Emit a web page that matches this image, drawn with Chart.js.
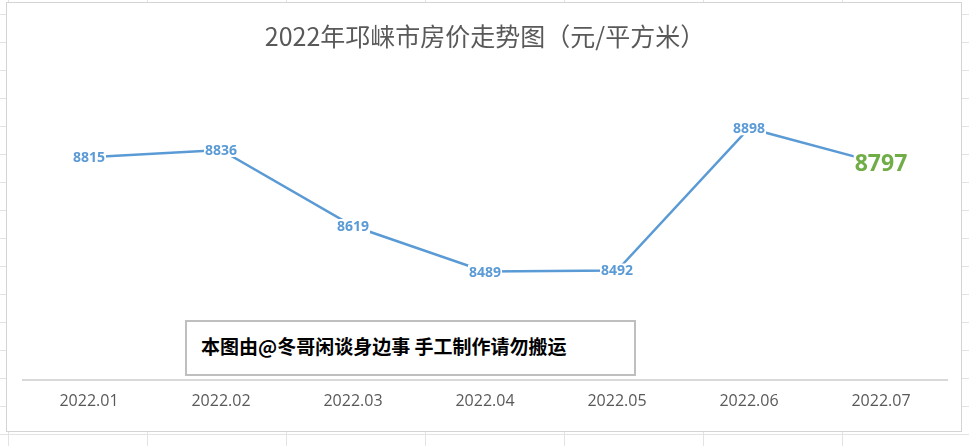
<!DOCTYPE html>
<html><head><meta charset="utf-8">
<script src="https://cdn.jsdelivr.net/npm/chart.js@4"></script>
<style>
html,body{margin:0;padding:0;width:969px;height:446px;overflow:hidden;background:#fff;
background-image:linear-gradient(#e3e3e3 1px,transparent 1px),linear-gradient(90deg,#e3e3e3 1px,transparent 1px);
background-size:139px 28px;background-position:8px 14px;}
#box{position:absolute;left:6px;top:2px;width:954px;height:428px;background:#fff;border:1px solid #d4d4d4;}
#wm{position:absolute;left:178px;top:317px;width:451px;height:56px;border:2px solid #bfbfbf;background:#fff;
font-family:"Noto Sans CJK SC";font-weight:bold;font-size:19px;color:#000;line-height:48px;padding-left:14px;box-sizing:border-box;}
</style></head><body>
<div id="box"><canvas id="c" width="954" height="428"></canvas>
<div id="wm">本图由@冬哥闲谈身边事 手工制作请勿搬运</div></div>
<script>
const categories=["2022.01","2022.02","2022.03","2022.04","2022.05","2022.06","2022.07"];
const prices=[8815,8836,8619,8489,8492,8898,8797];
const titleText="2022年邛崃市房价走势图（元/平方米）";
const labelPlugin={id:'lbl',afterDatasetsDraw(ch){
 const ctx=ch.ctx;const meta=ch.getDatasetMeta(0);
 meta.data.forEach((p,i)=>{
  const last=i===prices.length-1;
  ctx.save();
  ctx.font=last?'bold 23px "Open Sans"':'bold 14px "Open Sans"';
  const t=String(prices[i]);const w=ctx.measureText(t).width;
  const h=last?22:14;
  ctx.fillStyle='#fff';ctx.fillRect(p.x-w/2-1,p.y-h/2,w+2,h);
  ctx.fillStyle=last?'#70ad47':'#5b9bd5';ctx.textAlign='center';ctx.textBaseline='middle';
  ctx.fillText(t,p.x,p.y+1);ctx.restore();
 });}};
new Chart(document.getElementById('c'),{type:'line',
data:{labels:categories,datasets:[{data:prices,borderColor:'#5b9bd5',borderWidth:2.5,pointRadius:0,tension:0}]},
options:{responsive:false,animation:false,
layout:{padding:{left:16,right:14,top:0,bottom:8}},
plugins:{legend:{display:false},tooltip:{enabled:false},
 title:{display:true,text:titleText,color:'#595959',font:{family:'"Noto Sans CJK SC"',size:25,weight:'normal'},padding:{top:18,bottom:10}}},
scales:{y:{display:false,min:8180,max:9090},
 x:{offset:true,grid:{display:false,drawTicks:false},border:{color:'#d9d9d9',width:2},
  ticks:{color:'#595959',font:{family:'"Open Sans"',size:16},padding:12}}}},
plugins:[labelPlugin]});
</script></body></html>
